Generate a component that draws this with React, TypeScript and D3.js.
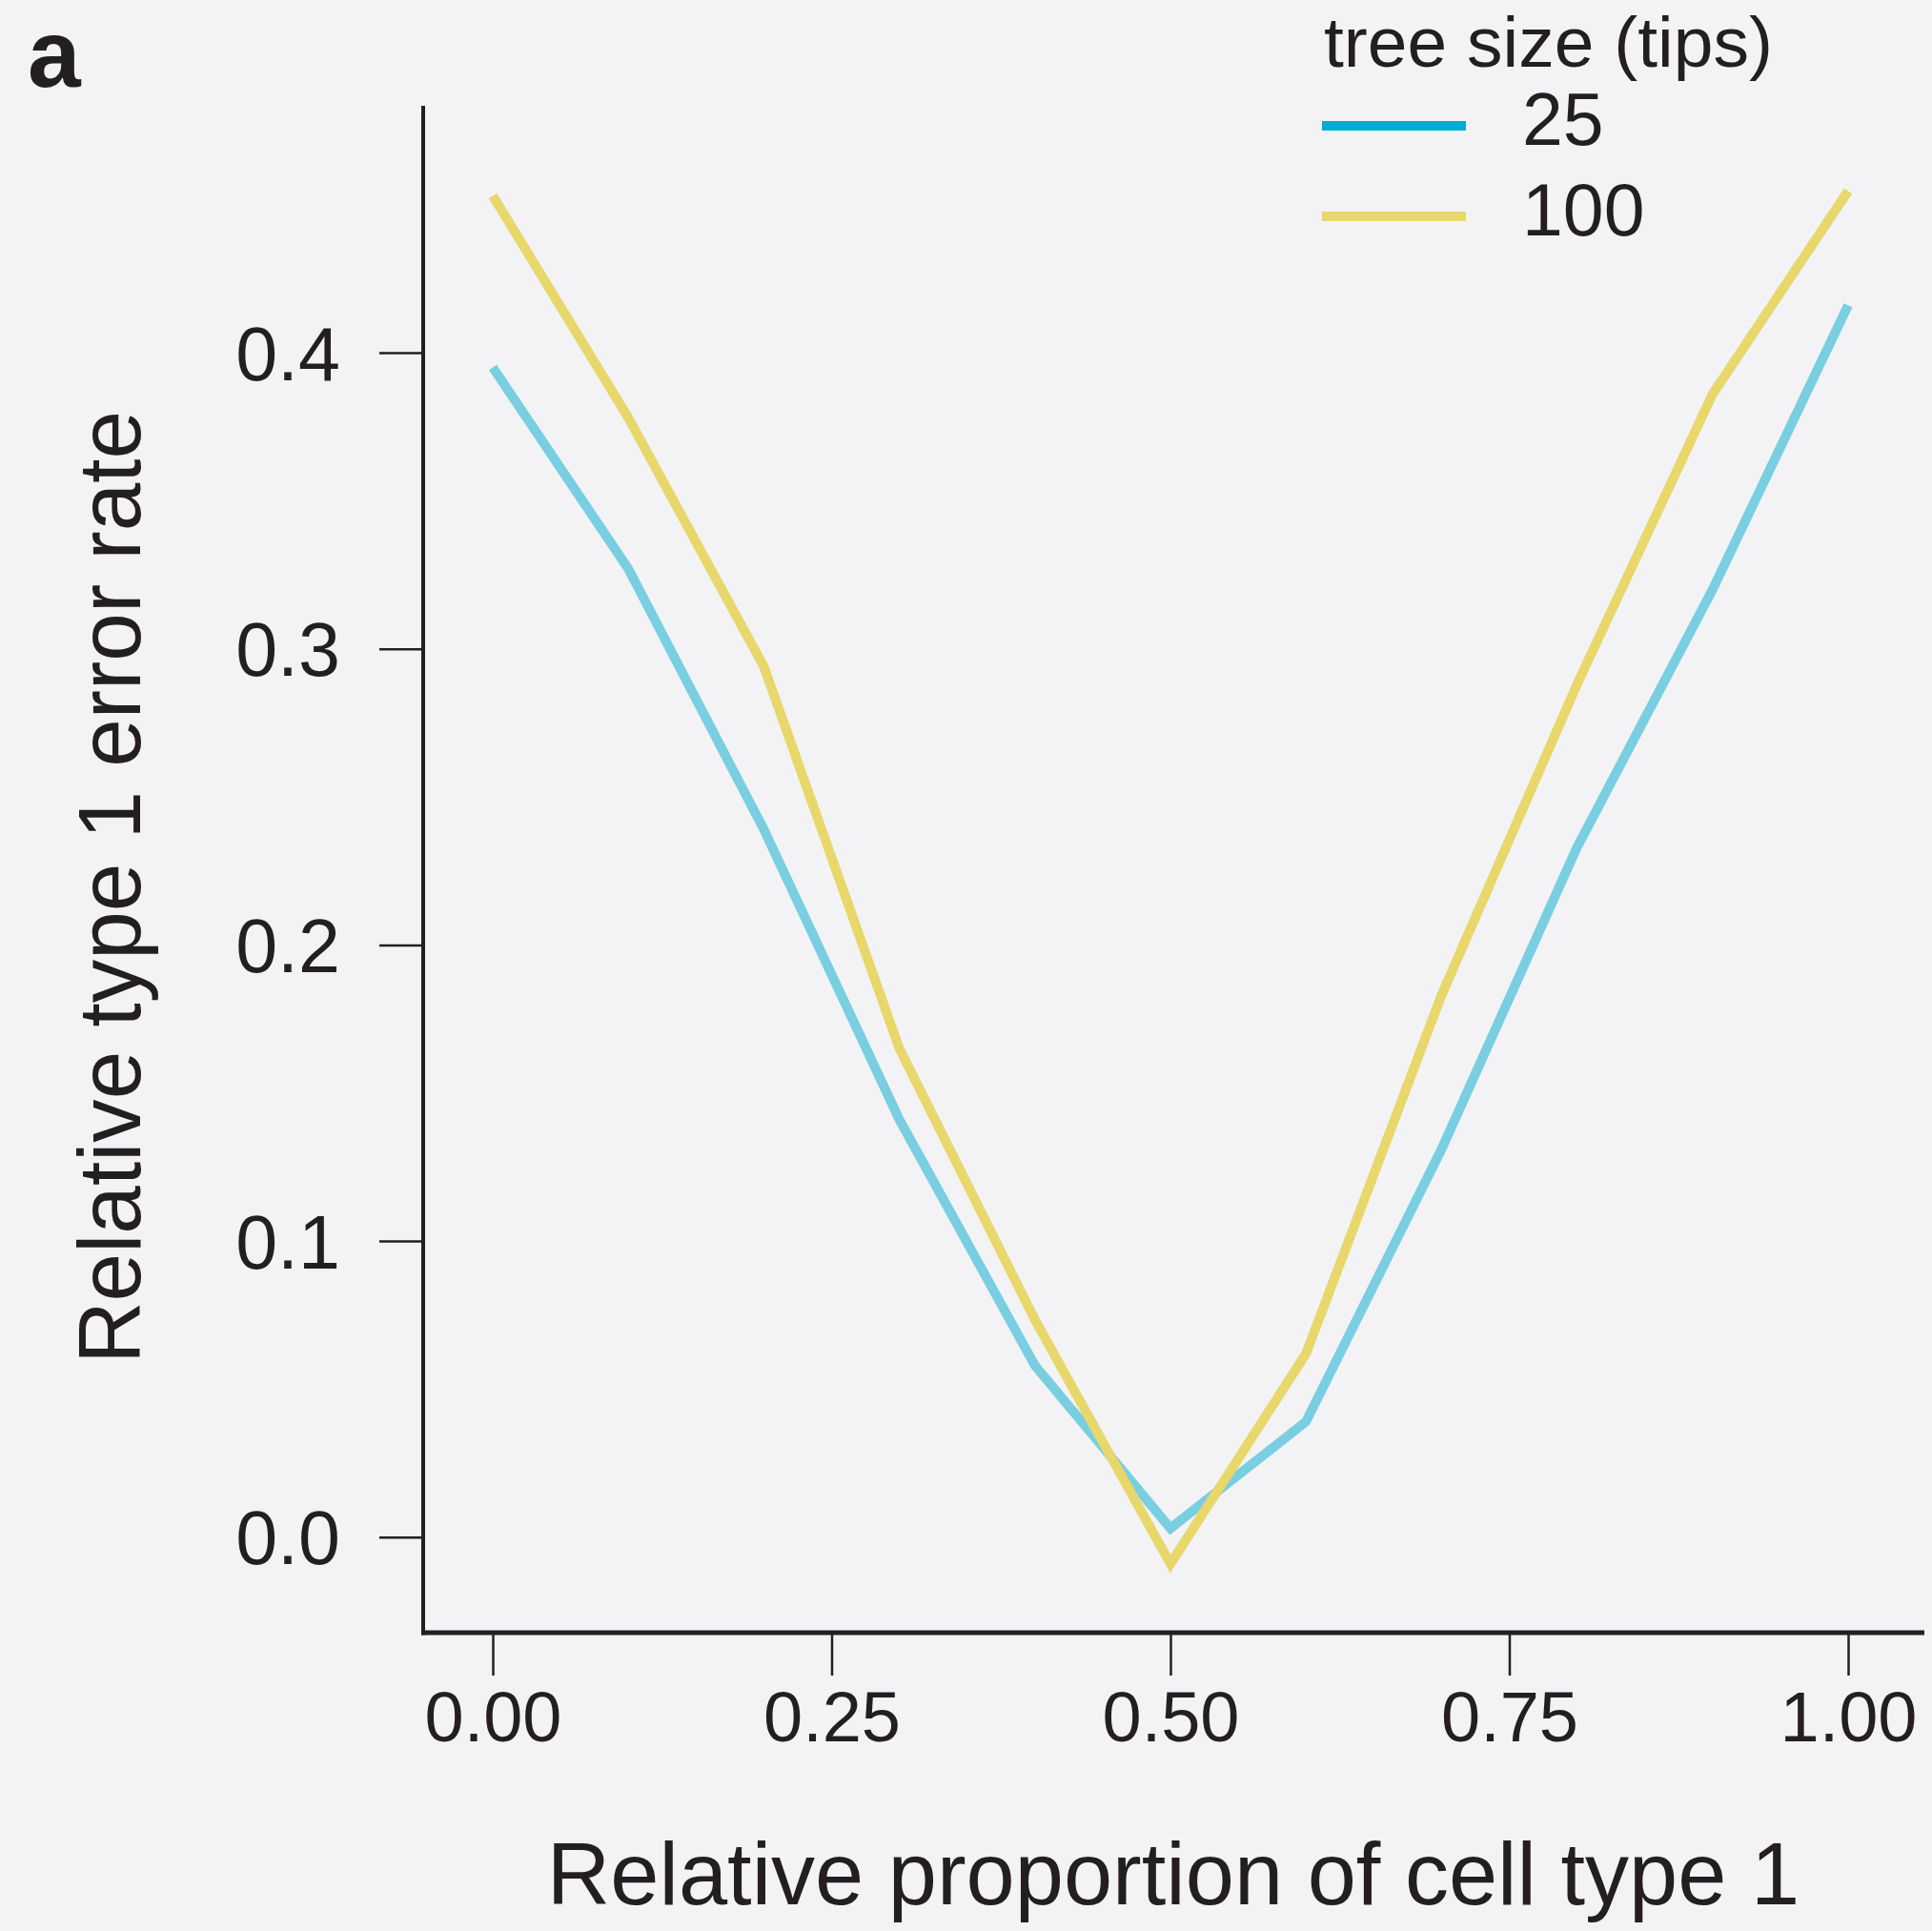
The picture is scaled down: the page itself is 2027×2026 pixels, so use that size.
import React, { useEffect, useRef } from 'react';
import * as d3 from 'd3';

const proportion = [0, 0.1, 0.2, 0.3, 0.4, 0.5, 0.6, 0.7, 0.8, 0.9, 1.0];
const tips25 = [0.395, 0.327, 0.239, 0.141, 0.058, 0.003, 0.039, 0.131, 0.233, 0.32, 0.416];
const tips100 = [0.453, 0.378, 0.294, 0.165, 0.0734, -0.009, 0.062, 0.183, 0.288, 0.386, 0.4546];
const xTicks = [0, 0.25, 0.5, 0.75, 1.0];
const yTicks = [0, 0.1, 0.2, 0.3, 0.4];
const seriesNames = ['25', '100'];

const W = 2027;
const H = 2026;
const ink = '#231f20';
const font = '"Liberation Sans", Arial, sans-serif';

export default function App() {
  const ref = useRef<SVGSVGElement>(null);

  function draw() {
    const svg = d3.select(ref.current);
    svg.selectAll('*').remove();

    svg.append('rect').attr('width', W).attr('height', H).attr('fill', '#f3f3f5');

    const x = d3.scaleLinear().domain([0, 1]).range([517, 1939]);
    const y = d3.scaleLinear().domain([0, 0.4]).range([1612.8, 370]);
    const axisLeftX = 444;
    const axisBottomY = 1713;

    // x axis
    const gx = svg
      .append('g')
      .attr('transform', `translate(0, ${axisBottomY})`)
      .call(d3.axisBottom(x).tickValues(xTicks).tickSize(45).tickSizeOuter(0).tickPadding(0).tickFormat(d3.format('.2f')));
    gx.select('.domain').remove();
    gx.selectAll('.tick line').attr('stroke', ink).attr('stroke-width', 2.5);
    gx.selectAll('.tick text')
      .attr('fill', ink)
      .attr('font-family', font)
      .attr('font-size', 74)
      .attr('dy', null)
      .attr('y', 114);

    // y axis
    const gy = svg
      .append('g')
      .attr('transform', `translate(${axisLeftX}, 0)`)
      .call(d3.axisLeft(y).tickValues(yTicks).tickSize(46).tickSizeOuter(0).tickFormat(d3.format('.1f')));
    gy.select('.domain').remove();
    gy.selectAll('.tick line').attr('stroke', ink).attr('stroke-width', 2.5);
    gy.selectAll('.tick text')
      .attr('fill', ink)
      .attr('font-family', font)
      .attr('font-size', 79)
      .attr('dy', null)
      .attr('y', 28)
      .attr('x', -87);

    svg
      .append('line')
      .attr('x1', axisLeftX)
      .attr('x2', axisLeftX)
      .attr('y1', 111)
      .attr('y2', axisBottomY + 2.5)
      .attr('stroke', ink)
      .attr('stroke-width', 4);
    svg
      .append('line')
      .attr('x1', axisLeftX - 2)
      .attr('x2', 2019)
      .attr('y1', axisBottomY)
      .attr('y2', axisBottomY)
      .attr('stroke', ink)
      .attr('stroke-width', 5);

    const line = d3
      .line<number>()
      .x((d, i) => x(proportion[i]))
      .y(d => y(d));

    svg
      .append('path')
      .attr('d', line(tips25))
      .attr('fill', 'none')
      .attr('stroke', '#79cfe1')
      .attr('stroke-width', 10)
      .attr('stroke-linejoin', 'miter');
    svg
      .append('path')
      .attr('d', line(tips100))
      .attr('fill', 'none')
      .attr('stroke', '#e8d76b')
      .attr('stroke-width', 10)
      .attr('stroke-linejoin', 'miter');

    // titles
    svg
      .append('text')
      .attr('x', 1231)
      .attr('y', 1998)
      .attr('text-anchor', 'middle')
      .attr('font-family', font)
      .attr('font-size', 92)
      .attr('fill', ink)
      .text('Relative proportion of cell type 1');
    svg
      .append('text')
      .attr('transform', 'translate(147, 931) rotate(-90)')
      .attr('text-anchor', 'middle')
      .attr('font-family', font)
      .attr('font-size', 92)
      .attr('fill', ink)
      .attr('textLength', 1000)
      .attr('lengthAdjust', 'spacingAndGlyphs')
      .text('Relative type 1 error rate');
    svg
      .append('text')
      .attr('x', 29)
      .attr('y', 91)
      .attr('font-family', font)
      .attr('font-weight', 'bold')
      .attr('font-size', 100)
      .attr('fill', ink)
      .text('a');

    // legend
    const legendColors = ['#00acd1', '#e8d76b'];
    svg
      .append('text')
      .attr('x', 1389)
      .attr('y', 70)
      .attr('font-family', font)
      .attr('font-size', 75)
      .attr('fill', ink)
      .text('tree size (tips)');
    const items = svg
      .selectAll('.legend-item')
      .data(seriesNames)
      .join('g')
      .attr('class', 'legend-item')
      .attr('transform', (d, i) => `translate(0, ${132 + i * 95})`);
    items
      .append('line')
      .attr('x1', 1387)
      .attr('x2', 1538)
      .attr('stroke', (d, i) => legendColors[i])
      .attr('stroke-width', 10);
    items
      .append('text')
      .attr('x', 1597)
      .attr('y', 20)
      .attr('font-family', font)
      .attr('font-size', 77)
      .attr('fill', ink)
      .text(d => d);
  }

  useEffect(() => draw(), []);

  return (
    <svg
      ref={ref}
      width={W}
      height={H}
      style={{ position: 'absolute', left: 0, top: 0, display: 'block' }}
    />
  );
}
